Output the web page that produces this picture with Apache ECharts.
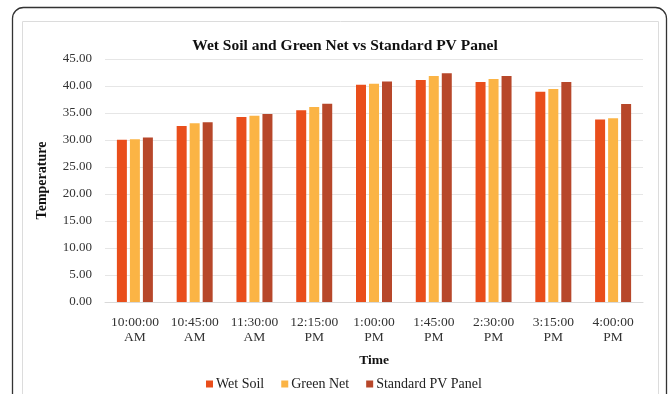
<!DOCTYPE html>
<html>
<head>
<meta charset="utf-8">
<script src="https://cdn.jsdelivr.net/npm/echarts@6/dist/echarts.min.js"></script>
<style>
  html, body { margin: 0; padding: 0; background: #fff; }
  #chart { width: 670px; height: 394px; }
</style>
</head>
<body>
<div id="chart"></div>
<script>
// Time of day readings
const times = [
  '10:00:00\nAM', '10:45:00\nAM', '11:30:00\nAM', '12:15:00\nPM', '1:00:00\nPM',
  '1:45:00\nPM', '2:30:00\nPM', '3:15:00\nPM', '4:00:00\nPM'
];

// Panel temperatures per setup
const wetSoil    = [30.05, 32.6, 34.25, 35.5, 40.25, 41.1, 40.75, 38.95, 33.8];
const greenNet   = [30.15, 33.1, 34.5, 36.1, 40.4, 41.85, 41.3, 39.45, 34.05];
const standardPV = [30.45, 33.3, 34.8, 36.7, 40.85, 42.35, 41.85, 40.75, 36.65];

const seriesNames = ['Wet Soil', 'Green Net', 'Standard PV Panel'];
const seriesColors = ['#E94E1B', '#FBB445', '#B7472A'];

const FONT = '"Liberation Serif", "Times New Roman", serif';

const chart = echarts.init(document.getElementById('chart'));

function bar(name, data, color) {
  return {
    name: name,
    type: 'bar',
    data: data,
    barWidth: 10,
    barGap: '30%',
    itemStyle: { color: color },
    emphasis: { disabled: true }
  };
}

chart.setOption({
  animation: false,
  textStyle: { fontFamily: FONT },
  title: {
    text: 'Wet Soil and Green Net vs Standard PV Panel',
    left: 340,
    top: 33,
    textAlign: 'center',
    textStyle: { fontFamily: FONT, fontSize: 15.5, fontWeight: 'bold', color: '#111' }
  },
  legend: {
    data: seriesNames,
    bottom: -2,
    left: 201,
    itemWidth: 7,
    itemHeight: 7,
    itemGap: 17,
    icon: 'rect',
    textStyle: { fontFamily: FONT, fontSize: 14, color: '#222', padding: [0, 0, 0, -2] }
  },
  grid: { left: 105, right: 27, top: 59, bottom: 92 },
  xAxis: {
    type: 'category',
    data: times,
    name: 'Time',
    nameLocation: 'middle',
    nameGap: 52,
    nameTextStyle: { fontFamily: FONT, fontSize: 13.5, fontWeight: 'bold', color: '#111' },
    axisLine: { lineStyle: { color: '#d9d9d9' } },
    axisTick: { show: false },
    axisLabel: { fontFamily: FONT, fontSize: 13.5, color: '#333', lineHeight: 15, margin: 13, interval: 0 }
  },
  yAxis: {
    type: 'value',
    min: 0,
    max: 45,
    interval: 5,
    name: 'Temperature',
    nameLocation: 'middle',
    nameGap: 56,
    nameRotate: 90,
    nameTextStyle: { fontFamily: FONT, fontSize: 14, fontWeight: 'bold', color: '#111' },
    axisLine: { show: false },
    axisTick: { show: false },
    splitLine: { lineStyle: { color: '#e6e6e6' } },
    axisLabel: {
      fontFamily: FONT, fontSize: 13, color: '#333', margin: 13,
      formatter: v => v.toFixed(2)
    }
  },
  graphic: [
    {
      type: 'rect',
      shape: { x: 12.5, y: 7.5, width: 654, height: 410, r: 11 },
      style: { fill: 'none', stroke: '#333', lineWidth: 1.3 },
      silent: true
    },
    {
      type: 'rect',
      shape: { x: 22.5, y: 21.5, width: 636, height: 400 },
      style: { fill: 'none', stroke: '#dcdcdc', lineWidth: 1 },
      silent: true
    }
  ],
  series: [
    bar(seriesNames[0], wetSoil, seriesColors[0]),
    bar(seriesNames[1], greenNet, seriesColors[1]),
    bar(seriesNames[2], standardPV, seriesColors[2])
  ]
});
</script>
</body>
</html>
